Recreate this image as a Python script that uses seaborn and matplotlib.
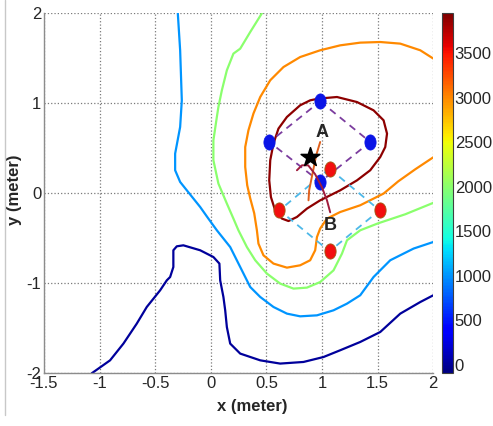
import numpy as np
import pandas as pd
import matplotlib
matplotlib.use("Agg")
import matplotlib.pyplot as plt
import seaborn as sns
from matplotlib.path import Path
from matplotlib.lines import Line2D
from matplotlib.colors import Normalize
from matplotlib.cm import ScalarMappable

# ---------------- data ----------------
levels = [0, 1000, 2000, 3000, 3900]

c0_x = [-1.071, -0.906, -0.786, -0.666, -0.576, -0.456, -0.396, -0.366, -0.337, -0.337, -0.306, -0.247,
        -0.096, 0.023, 0.077, 0.084, 0.113, 0.129, 0.144, 0.174, 0.264, 0.444, 0.623, 0.833, 1.013,
        1.163, 1.343, 1.523, 1.703, 1.883, 2.0]
c0_y = [-2.0, -1.856, -1.67, -1.448, -1.263, -1.078, -0.967, -0.930, -0.819, -0.633, -0.589, -0.578,
        -0.633, -0.708, -0.781, -0.967, -1.152, -1.3, -1.486, -1.670, -1.781, -1.856, -1.892, -1.874,
        -1.819, -1.744, -1.652, -1.541, -1.337, -1.208, -1.133]

c1_x = [-0.297, -0.276, -0.261, -0.276, -0.321, -0.321, -0.276, -0.216, -0.096, -0.024, 0.054, 0.174,
        0.264, 0.354, 0.444, 0.563, 0.684, 0.803, 0.954, 1.103, 1.224, 1.343, 1.463, 1.613, 1.823, 2.0]
c1_y = [2.0, 1.589, 1.033, 0.737, 0.441, 0.256, 0.126, 0.033, -0.152, -0.278, -0.411, -0.597,
        -0.819, -1.041, -1.152, -1.263, -1.337, -1.367, -1.356, -1.3, -1.226, -1.133, -0.930, -0.744,
        -0.614, -0.541]

c2_x = [0.459, 0.354, 0.264, 0.203, 0.144, 0.099, 0.068, 0.054, 0.023, 0.023, 0.068, 0.144, 0.203,
        0.248, 0.324, 0.399, 0.504, 0.623, 0.743, 0.864, 0.983, 1.103, 1.179, 1.224, 1.283, 1.343,
        1.505, 1.748, 2.0]
c2_y = [2.0, 1.792, 1.607, 1.552, 1.367, 1.144, 0.959, 0.848, 0.589, 0.367, 0.108, -0.114, -0.281,
        -0.411, -0.597, -0.744, -0.892, -1.003, -1.059, -1.048, -0.986, -0.856, -0.670, -0.522, -0.467,
        -0.411, -0.333, -0.233, -0.106]

c3_x = [2.0, 1.883, 1.703, 1.523, 1.343, 1.163, 0.983, 0.803, 0.653, 0.534, 0.444, 0.383, 0.338, 0.309,
        0.309, 0.327, 0.354, 0.390, 0.414, 0.428, 0.473, 0.563, 0.684, 0.803, 0.893, 0.938, 0.954,
        0.983, 1.044, 1.163, 1.343, 1.553, 1.685, 1.838, 2.0]
c3_y = [1.497, 1.589, 1.663, 1.681, 1.674, 1.644, 1.589, 1.514, 1.403, 1.256, 1.070, 0.886, 0.7, 0.514,
        0.292, 0.089, -0.056, -0.222, -0.411, -0.559, -0.689, -0.781, -0.826, -0.8, -0.744, -0.633, -0.486,
        -0.392, -0.281, -0.208, -0.133, -0.003, 0.133, 0.267, 0.4]

c4_x = [0.968, 1.134, 1.314, 1.463, 1.553, 1.584, 1.568, 1.523, 1.433, 1.314, 1.163, 0.983, 0.864,
        0.774, 0.698, 0.639, 0.578, 0.540, 0.525, 0.534, 0.563, 0.608, 0.684, 0.803, 0.893, 0.968]
c4_y = [1.052, 1.070, 1.014, 0.922, 0.811, 0.663, 0.514, 0.403, 0.256, 0.144, 0.033, -0.078, -0.170,
        -0.263, -0.308, -0.281, -0.189, -0.041, 0.144, 0.367, 0.552, 0.719, 0.848, 0.978, 1.033, 1.052]

contours_x = [c0_x, c1_x, c2_x, c3_x, c4_x]
contours_y = [c0_y, c1_y, c2_y, c3_y, c4_y]

# short track segments near the star
track1_x = [0.983, 0.947, 0.911, 0.884, 0.878]
track1_y = [0.570, 0.422, 0.2, 0.033, -0.078]
track2_x = [0.774, 0.819, 0.875, 0.938, 0.999, 1.044, 1.073]
track2_y = [0.256, 0.311, 0.311, 0.211, 0.067, -0.078, -0.211]

# sensor arrays A (blue) and B (red): top, right, bottom, left
a_x = [0.983, 1.433, 0.983, 0.527]
a_y = [1.022, 0.570, 0.126, 0.570]
b_x = [1.067, 1.517, 1.067, 0.617]
b_y = [0.274, -0.189, -0.644, -0.189]

star_x = [0.893]
star_y = [0.403]

label_text = ["A", "B"]
label_x = [0.999, 1.073]
label_y = [0.681, -0.356]

x_ticks = [-1.5, -1, -0.5, 0, 0.5, 1, 1.5, 2]
x_ticklabels = ["-1.5", "-1", "-0.5", "0", "0.5", "1", "1.5", "2"]
y_ticks = [-2, -1, 0, 1, 2]
y_ticklabels = ["-2", "-1", "0", "1", "2"]
cbar_ticks = [0, 500, 1000, 1500, 2000, 2500, 3000, 3500]
cbar_min, cbar_max = -95, 3950

# ---------------- figure ----------------
sns.set_style("white")
plt.rcParams["font.family"] = ["Liberation Sans", "DejaVu Sans"]

W, H = 493, 426
fig = plt.figure(figsize=(W / 100, H / 100), dpi=100)
ax = fig.add_axes([44 / W, 1 - 373.3 / H, (433.3 - 44) / W, (373.3 - 13.3) / H])
cax = fig.add_axes([441.7 / W, 1 - 373.3 / H, 11.6 / W, (373.3 - 13.3) / H])

cmap = plt.get_cmap("jet")
norm = Normalize(vmin=cbar_min, vmax=cbar_max)

for lev, xs, ys in zip(levels, contours_x, contours_y):
    df = pd.DataFrame({"x": xs, "y": ys})
    sns.lineplot(data=df, x="x", y="y", sort=False, estimator=None, color=cmap(norm(lev)),
                 lw=1.6, ax=ax, zorder=2, solid_joinstyle="round", solid_capstyle="round")


def closed(v):
    return list(v) + [v[0]]


# dashed array outlines
sns.lineplot(x=closed(a_x), y=closed(a_y), sort=False, estimator=None, color="#7B3C9E",
             lw=1.3, ax=ax, zorder=3, linestyle=(0, (4, 3)))
sns.lineplot(x=closed(b_x), y=closed(b_y), sort=False, estimator=None, color="#4DB8E8",
             lw=1.3, ax=ax, zorder=3, linestyle=(0, (4, 3)))

# ellipse marker
t = np.linspace(0, 2 * np.pi, 60)
ell = Path(np.column_stack([0.74 * np.cos(t), np.sin(t)]), closed=True)

sns.scatterplot(x=a_x, y=a_y, marker=ell, s=120, color="#0A14E6", edgecolor="#0A14E6",
                linewidth=0.5, ax=ax, zorder=4)
sns.scatterplot(x=b_x, y=b_y, marker=ell, s=120, color="#F20F0F", edgecolor="#A05A10",
                linewidth=0.6, ax=ax, zorder=4)

sns.lineplot(x=track1_x, y=track1_y, sort=False, estimator=None, color="#E0601C", lw=1.4, ax=ax, zorder=5)
sns.lineplot(x=track2_x, y=track2_y, sort=False, estimator=None, color="#A01C3C", lw=1.4, ax=ax, zorder=5,
             solid_joinstyle="round")

sns.scatterplot(x=star_x, y=star_y, marker="*", s=200, color="black", edgecolor="black", ax=ax, zorder=6)

for txt, tx, ty in zip(label_text, label_x, label_y):
    ax.text(tx, ty, txt, fontsize=13, fontweight="bold", ha="center", va="center", zorder=7)

ax.set_xlim(-1.5, 2)
ax.set_ylim(-2, 2)
ax.set_xticks(x_ticks)
ax.set_xticklabels(x_ticklabels)
ax.set_yticks(y_ticks)
ax.set_yticklabels(y_ticklabels)
ax.grid(True, linestyle=":", color="#7a7a7a", linewidth=0.9)
ax.tick_params(axis="both", labelsize=12, pad=2, length=0)
for s in ["top", "right"]:
    ax.spines[s].set_visible(False)
for s in ["left", "bottom"]:
    ax.spines[s].set_color("#8c8c8c")
    ax.spines[s].set_linewidth(1.0)

ax.set_xlabel("x (meter)", fontsize=12, fontweight="bold", labelpad=0)
ax.xaxis.set_label_coords(0.535, -0.072)
ax.set_ylabel("y (meter)", fontsize=12, fontweight="bold", labelpad=2)
ax.yaxis.set_label_coords(-0.057, 0.51)

cb = fig.colorbar(ScalarMappable(norm=norm, cmap=cmap), cax=cax, ticks=cbar_ticks)
cb.ax.tick_params(labelsize=12, pad=1, direction="in", length=3, width=0.6)
cb.outline.set_edgecolor("#404040")
cb.outline.set_linewidth(0.8)

fig.add_artist(Line2D([4.5 / W, 4.5 / W], [1.0, 1 - 415 / H], color="#c8c8c8", lw=1.0))

fig.savefig("out.png", dpi=100)
